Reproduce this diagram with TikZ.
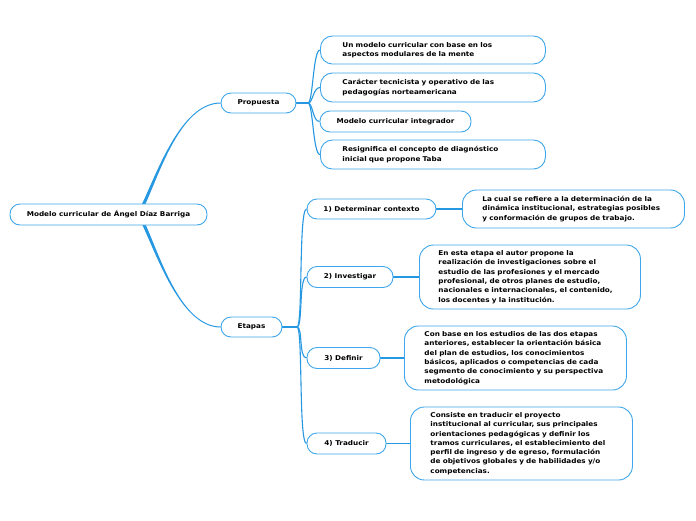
\documentclass[tikz,border=0pt]{standalone}
\usepackage{fontspec}
\setmainfont{DejaVu Sans}
\newfontfamily\vfont{DejaVu Sans}[FakeStretch=1.1]
\usetikzlibrary{calc}
\pgfdeclarelayer{back}
\pgfdeclarelayer{bg}
\pgfsetlayers{back,bg,main}
\definecolor{lnk}{RGB}{38,152,226}
\definecolor{brd}{RGB}{62,166,234}
\begin{document}
\begin{tikzpicture}[x=1pt,y=-1pt,
  txt/.style={font=\vfont\fontsize{6.6}{9.3}\selectfont\bfseries, text=black},
  pill/.style={txt, draw=brd, line width=0.9pt, fill=white, rounded corners=10pt, inner sep=0pt, align=center},
  card/.style={txt, draw=brd, line width=0.9pt, fill=white, rounded corners=14pt, inner ysep=0pt, inner xsep=20pt, text width=182pt, align=left, anchor=west},
  pcard/.style={card, inner xsep=22pt, text width=181pt, rounded corners=12pt},
  link/.style={draw=lnk, line width=1.1pt},
  hub/.style={draw=lnk, line width=2.4pt}]
\useasboundingbox (0,0) rectangle (696,520);
\begin{pgfonlayer}{back}
  \fill[white] (0,0) rectangle (696,520);
\end{pgfonlayer}

% main nodes
\node[pill, minimum width=197pt, minimum height=21pt] (root) at (108.5,214.5) {Modelo curricular de Ángel Díaz Barriga};
\node[pill, minimum width=75pt, minimum height=20pt] (prop) at (258.5,103) {Propuesta};
\node[pill, minimum width=61pt, minimum height=20pt] (etap) at (251.5,327) {Etapas};

% Propuesta children
\node[pcard, minimum height=28pt] (p1) at (320,50) {Un modelo curricular con base en los\\aspectos modulares de la mente};
\node[pcard, minimum height=29pt] (p2) at (320,87.5) {Carácter tecnicista y operativo de las\\pedagogías norteamericana};
\node[pill, minimum width=151pt, minimum height=21pt] (p3) at (395.5,121.5) {Modelo curricular integrador};
\node[pcard, minimum height=29pt] (p4) at (320,154.5) {Resignifica el concepto de diagnóstico\\inicial que propone Taba};

% Etapas children
\node[pill, minimum width=129pt, minimum height=20pt] (e1) at (371.5,209) {1) Determinar contexto};
\node[pill, minimum width=86pt, minimum height=21pt] (e2) at (350,277) {2) Investigar};
\node[pill, minimum width=73pt, minimum height=21pt] (e3) at (343.5,358) {3) Definir};
\node[pill, minimum width=79pt, minimum height=21pt] (e4) at (346.5,443.5) {4) Traducir};

% details
\node[card, minimum height=38pt] (d1) at (462,209) {La cual se refiere a la determinación de la\\dinámica institucional, estrategias posibles\\y conformación de grupos de trabajo.};
\node[card, minimum height=64pt, inner xsep=19pt, text width=183pt] (d2) at (419,277) {En esta etapa el autor propone la\\realización de investigaciones sobre el\\estudio de las profesiones y el mercado\\profesional, de otros planes de estudio,\\nacionales e internacionales, el contenido,\\los docentes y la institución.};
\node[card, minimum height=64pt] (d3) at (404,358) {Con base en los estudios de las dos etapas\\anteriores, establecer la orientación básica\\del plan de estudios, los conocimientos\\básicos, aplicados o competencias de cada\\segmento de conocimiento y su perspectiva\\metodológica};
\node[card, minimum height=73pt] (d4) at (410,443.5) {Consiste en traducir el proyecto\\institucional al curricular, sus principales\\orientaciones pedagógicas y definir los\\tramos curriculares, el establecimiento del\\perfil de ingreso y de egreso, formulación\\de objetivos globales y de habilidades y/o\\competencias.};

\coordinate (rs) at (138,214);
\coordinate (phub) at (308,103);
\coordinate (ehub) at (297,327);

\begin{pgfonlayer}{bg}
  % tapered root connectors
  \fill[lnk] ($(rs)+(-1.8,0)$) .. controls (150,196) and (175,102.5) .. ($(prop.west)+(0,-0.5)$)
     -- ($(prop.west)+(0,0.5)$) .. controls (175,103.5) and (153.5,196) .. ($(rs)+(1.8,0)$) -- cycle;
  \fill[lnk] ($(rs)+(-1.8,0)$) .. controls (150,232) and (175,327.5) .. ($(etap.west)+(0,0.5)$)
     -- ($(etap.west)+(0,-0.5)$) .. controls (175,326.5) and (153.5,232) .. ($(rs)+(1.8,0)$) -- cycle;
  % Propuesta branches
  \draw[hub] (prop.east) -- (phub);
  \draw[link] (phub) .. controls +(5,0) and +(-7,0) .. (p1.west);
  \draw[link] (phub) .. controls +(5,0) and +(-7,0) .. (p2.west);
  \draw[link] (phub) .. controls +(5,0) and +(-7,0) .. (p3.west);
  \draw[link] (phub) .. controls +(5,0) and +(-7,0) .. (p4.west);
  % Etapas branches
  \draw[hub] (etap.east) -- (ehub);
  \draw[link] (ehub) .. controls +(6,0) and +(-8,0) .. (e1.west);
  \draw[link] (ehub) .. controls +(6,0) and +(-8,0) .. (e2.west);
  \draw[link] (ehub) .. controls +(6,0) and +(-8,0) .. (e3.west);
  \draw[link] (ehub) .. controls +(6,0) and +(-8,0) .. (e4.west);
  % details
  \draw[link] (e1.east) -- (d1.west);
  \draw[link] (e2.east) -- (d2.west);
  \draw[link] (e3.east) -- (d3.west);
  \draw[link] (e4.east) -- (d4.west);
\end{pgfonlayer}
\end{tikzpicture}
\end{document}
